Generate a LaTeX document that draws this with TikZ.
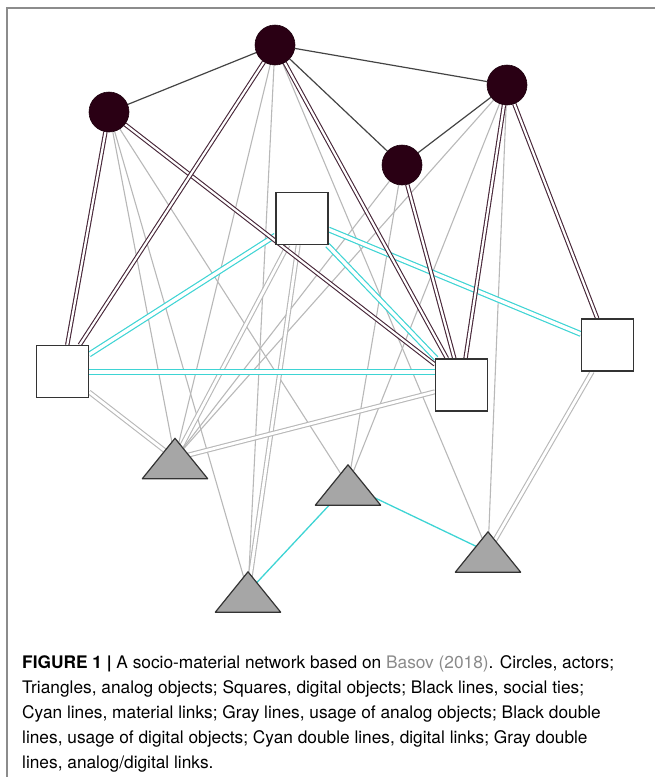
\documentclass[tikz,border=0pt]{standalone}
\usepackage{fontspec}
\setmainfont{TeX Gyre Heros}
\pgfdeclarelayer{bg}
\pgfsetlayers{bg,main}
\definecolor{actfill}{HTML}{2A0014}
\definecolor{usecol}{HTML}{472638}
\definecolor{linkcol}{HTML}{3ED4D4}
\definecolor{anacol}{HTML}{B8B8B8}
\definecolor{tiecol}{HTML}{444444}
\definecolor{trifill}{HTML}{A6A6A6}
\definecolor{framecol}{HTML}{8C8C8C}
\definecolor{refcol}{HTML}{8A8A8A}

\begin{document}
\begin{tikzpicture}[x=1pt, y=-1pt,
  act/.style={circle, fill=actfill, draw=actfill!70!black, line width=0.6pt, minimum size=40pt, inner sep=0pt},
  sq/.style={draw=black!80, line width=1.2pt, fill=white, minimum size=52pt, inner sep=0pt},
  tri/.style={minimum width=65pt, minimum height=40pt, inner sep=0pt},
  tie/.style={draw=tiecol, line width=1.2pt},
  ana/.style={draw=anacol, line width=1.1pt},
  mat/.style={draw=linkcol, line width=1.3pt},
  dig/.style={draw=usecol, line width=1.1pt, double=white, double distance=2.2pt},
  dlink/.style={draw=linkcol, line width=1.2pt, double=white, double distance=3.4pt},
  adlink/.style={draw=anacol, line width=1.1pt, double=white, double distance=2.8pt},
  captext/.style={anchor=base west, inner sep=0pt, font=\fontsize{17.3}{21}\selectfont}
]
\useasboundingbox (0,0) rectangle (655,777);
\draw[framecol, line width=1.3pt] (7,777) -- (7,8) -- (655,8);
% actors
\node[act] (cT) at (275,45) {};
\node[act] (cL) at (109,112) {};
\node[act] (cR) at (507,85) {};
\node[act] (cM) at (402,165) {};
% digital objects
\node[sq] (sT)  at (302,218.5) {};
\node[sq] (sL)  at (62.5,371.5) {};
\node[sq] (sMR) at (461.5,385) {};
\node[sq] (sR)  at (607.5,345) {};
% analog objects
\node[tri] (t1) at (175,458.5) {};
\node[tri] (t2) at (348,485) {};
\node[tri] (t3) at (488,552) {};
\node[tri] (t4) at (248,592) {};
\foreach \t in {t1,t2,t3,t4}
  \filldraw[fill=trifill, draw=black!80, line width=1.2pt, line join=round]
    (\t.south west) -- (\t.north) -- (\t.south east) -- cycle;
\begin{pgfonlayer}{bg}
% usage of analog objects
\foreach \a/\b in {cL/t1, cL/t2, cL/t4, cT/t1, cT/t3, cT/t4, cM/t1, cM/t2, cR/t1, cR/t2, cR/t3}
  \draw[ana] (\a) -- (\b.center);
% analog/digital links
\foreach \a/\b in {sL/t1, sT/t1, sT/t4, sMR/t1, sR/t3}
  \draw[adlink] (\a) -- (\b.center);
% digital links
\foreach \b in {sL, sMR, sR}
  \draw[dlink] (sT) -- (\b);
\draw[dlink] ([yshift=-0.5pt]sL.east) -- ([yshift=-0.5pt]sL.east -| sMR.west);
% usage of digital objects
\foreach \a/\b in {cL/sL, cL/sMR, cT/sL, cT/sMR, cM/sMR, cR/sMR, cR/sR}
  \draw[dig] (\a) -- (\b);
% material links
\draw[mat] (t2.center) -- (t4.center);
\draw[mat] (t2.center) -- (t3.center);
% social ties
\draw[tie] (cT) -- (cL);
\draw[tie] (cT) -- (cR);
\draw[tie] (cT) -- (cM);
\draw[tie] (cM) -- (cR);
\end{pgfonlayer}
% caption
\node[captext] (cap1) at (22,668) {\textbf{FIGURE 1 |} A socio-material network based on \textcolor{refcol}{Basov (2018)}. Circles, actors;};
\node[captext] (cap2) at (22,693) {Triangles, analog objects; Squares, digital objects; Black lines, social ties;};
\node[captext] (cap3) at (22,718) {Cyan lines, material links; Gray lines, usage of analog objects; Black double};
\node[captext] (cap4) at (22,743) {lines, usage of digital objects; Cyan double lines, digital links; Gray double};
\node[captext] (cap5) at (22,768) {lines, analog/digital links.};
\end{tikzpicture}
\end{document}
